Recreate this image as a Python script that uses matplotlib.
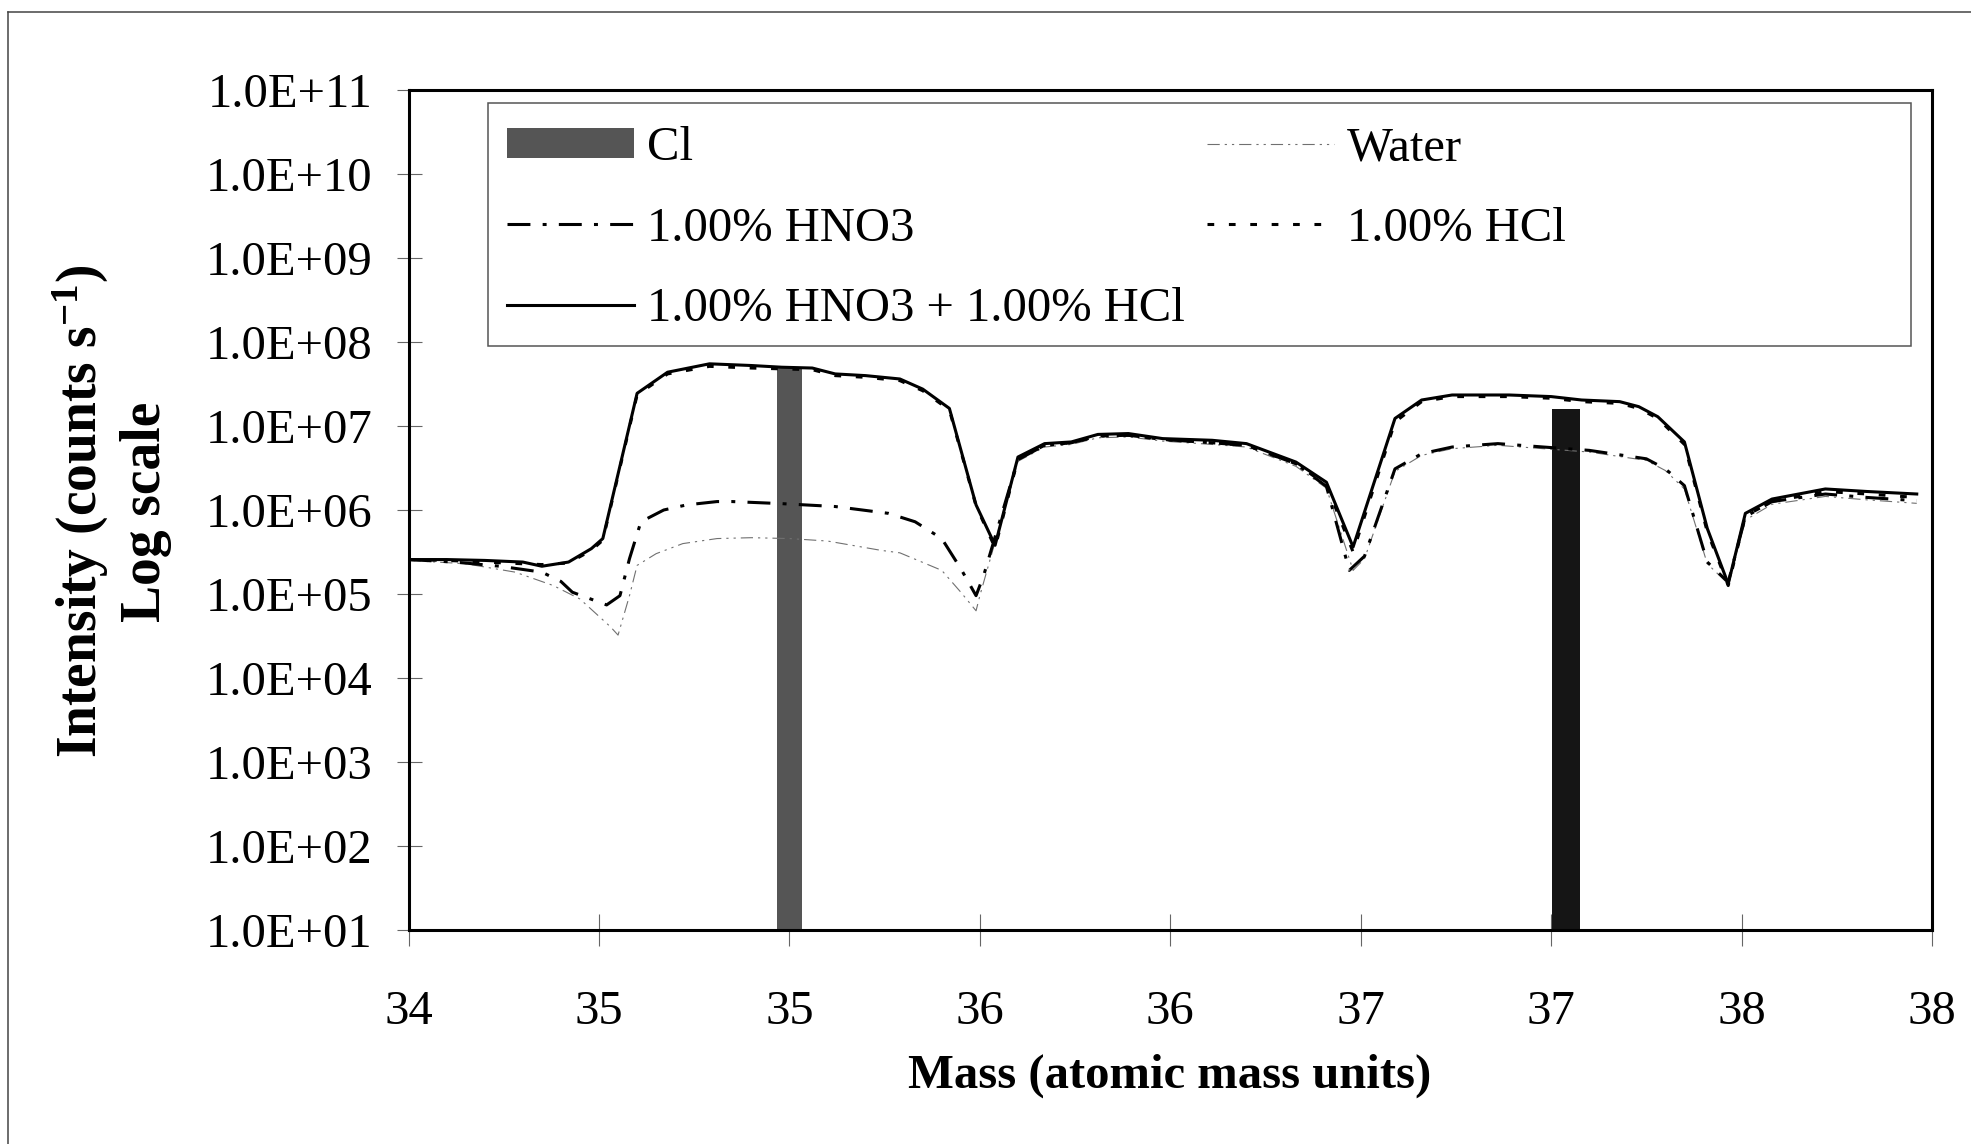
import matplotlib
matplotlib.use('Agg')
import numpy as np
import matplotlib.pyplot as plt
from matplotlib.lines import Line2D
from matplotlib.patches import Rectangle
from matplotlib.ticker import NullLocator

plt.rcParams['font.family'] = ['Liberation Serif', 'DejaVu Serif']
plt.rcParams['mathtext.fontset'] = 'custom'
plt.rcParams['mathtext.rm'] = 'Liberation Serif:bold'
plt.rcParams['mathtext.default'] = 'rm'

# ---------------- data ----------------
cl_mass = [35.00, 37.04]
cl_intensity = [4.9e7, 1.6e7]

band_mass = [34.00, 34.10, 34.20, 34.30, 34.35, 34.42, 34.48, 34.51, 34.60, 34.68,
             34.79, 34.90, 34.98, 35.06, 35.12, 35.20, 35.29, 35.35, 35.42, 35.49,
             35.54, 35.60, 35.67, 35.74, 35.81, 35.89, 35.98, 36.11, 36.20, 36.33,
             36.41, 36.48, 36.59, 36.66, 36.74, 36.89, 37.00, 37.08, 37.18, 37.23,
             37.28, 37.35, 37.41, 37.465, 37.51, 37.58, 37.72, 37.83, 37.96]

mix_intensity = [2.57e5, 2.57e5, 2.51e5, 2.40e5, 2.14e5, 2.40e5, 3.47e5, 4.57e5, 2.45e7, 4.37e7,
                 5.50e7, 5.25e7, 5.01e7, 4.90e7, 4.17e7, 3.98e7, 3.63e7, 2.75e7, 1.62e7, 1.15e6,
                 3.80e5, 4.27e6, 6.17e6, 6.46e6, 7.94e6, 8.13e6, 7.08e6, 6.76e6, 6.17e6, 3.72e6,
                 2.14e6, 3.63e5, 1.23e7, 2.04e7, 2.34e7, 2.34e7, 2.24e7, 2.04e7, 1.95e7, 1.70e7,
                 1.29e7, 6.46e6, 6.03e5, 1.32e5, 9.12e5, 1.35e6, 1.78e6, 1.66e6, 1.55e6]

hcl_intensity = [2.57e5, 2.51e5, 2.40e5, 2.29e5, 2.24e5, 2.34e5, 3.31e5, 4.37e5, 2.34e7, 4.17e7,
                 5.13e7, 4.90e7, 4.79e7, 4.68e7, 3.98e7, 3.80e7, 3.47e7, 2.63e7, 1.55e7, 1.12e6,
                 3.55e5, 4.07e6, 5.89e6, 6.31e6, 7.59e6, 7.76e6, 6.92e6, 6.31e6, 5.89e6, 3.55e6,
                 2.00e6, 3.16e5, 1.12e7, 1.95e7, 2.24e7, 2.24e7, 2.14e7, 1.95e7, 1.86e7, 1.62e7,
                 1.23e7, 6.03e6, 5.50e5, 1.26e5, 8.51e5, 1.26e6, 1.66e6, 1.55e6, 1.41e6]

hno3_mass = [34.00, 34.12, 34.24, 34.35, 34.40, 34.43, 34.52, 34.555, 34.58, 34.61,
             34.67, 34.73, 34.81, 34.85, 34.98, 35.12, 35.26, 35.33, 35.40, 35.45,
             35.49, 35.51, 35.60, 35.67, 35.74, 35.81, 35.89, 35.98, 36.11, 36.20,
             36.33, 36.41, 36.47, 36.51, 36.59, 36.66, 36.74, 36.86, 36.98, 37.10,
             37.25, 37.30, 37.35, 37.41, 37.465, 37.51, 37.58, 37.72, 37.83, 37.96]

hno3_intensity = [2.57e5, 2.40e5, 2.14e5, 1.82e5, 1.41e5, 1.05e5, 7.41e4, 9.55e4, 2.63e5, 7.24e5,
                  1.00e6, 1.15e6, 1.26e6, 1.26e6, 1.19e6, 1.10e6, 9.12e5, 7.24e5, 4.57e5, 2.00e5,
                  9.55e4, 1.66e5, 3.98e6, 5.89e6, 6.31e6, 7.59e6, 7.76e6, 6.92e6, 6.31e6, 5.89e6,
                  3.55e6, 1.91e6, 1.91e5, 2.82e5, 3.09e6, 4.68e6, 5.62e6, 6.17e6, 5.62e6, 5.13e6,
                  4.07e6, 3.09e6, 1.95e6, 2.40e5, 1.38e5, 8.32e5, 1.26e6, 1.55e6, 1.41e6, 1.29e6]

water_mass = [34.00, 34.15, 34.28, 34.38, 34.45, 34.53, 34.55, 34.58, 34.60, 34.65,
              34.72, 34.81, 34.90, 35.00, 35.10, 35.24, 35.29, 35.40, 35.45, 35.49,
              35.50, 35.60, 35.67, 35.74, 35.81, 35.89, 35.98, 36.11, 36.20, 36.33,
              36.41, 36.48, 36.51, 36.59, 36.66, 36.74, 36.86, 36.98, 37.10, 37.25,
              37.30, 37.35, 37.41, 37.465, 37.51, 37.58, 37.72, 37.83, 37.96]

water_intensity = [2.51e5, 2.29e5, 1.82e5, 1.26e5, 8.71e4, 4.07e4, 3.24e4, 9.55e4, 2.19e5, 3.02e5,
                   3.98e5, 4.57e5, 4.68e5, 4.57e5, 4.27e5, 3.31e5, 3.09e5, 1.91e5, 1.05e5, 6.31e4,
                   9.55e4, 3.80e6, 5.62e6, 6.03e6, 7.24e6, 7.41e6, 6.61e6, 6.03e6, 5.62e6, 3.31e6,
                   1.82e6, 1.91e5, 2.63e5, 2.88e6, 4.47e6, 5.37e6, 5.89e6, 5.37e6, 4.90e6, 3.89e6,
                   2.95e6, 1.78e6, 2.29e5, 1.32e5, 7.59e5, 1.17e6, 1.45e6, 1.32e6, 1.20e6]

x_ticks = [34.0, 34.5, 35.0, 35.5, 36.0, 36.5, 37.0, 37.5, 38.0]
x_tick_labels = ['34', '35', '35', '36', '36', '37', '37', '38', '38']
y_ticks = [1e1, 1e2, 1e3, 1e4, 1e5, 1e6, 1e7, 1e8, 1e9, 1e10, 1e11]
y_tick_labels = ['1.0E+01', '1.0E+02', '1.0E+03', '1.0E+04', '1.0E+05', '1.0E+06',
                 '1.0E+07', '1.0E+08', '1.0E+09', '1.0E+10', '1.0E+11']

# ---------------- figure ----------------
fig = plt.figure(figsize=(19.71, 11.44), dpi=100)
fig.patch.set_facecolor('white')
ax = fig.add_axes([0.2073, 0.1871, 0.7729, 0.7342])
ax.set_yscale('log')
ax.set_xlim(34, 38)
ax.set_ylim(1e1, 1e11)

base = 1e1
bars = ax.bar(cl_mass, np.array(cl_intensity) - base, bottom=base,
              width=[0.066, 0.074], color=['#555555', '#151515'],
              edgecolor='none', label='Cl', zorder=2)

l_water, = ax.plot(water_mass, water_intensity, color='#707070', lw=0.8,
                   dashes=(11, 4.5, 2, 4.5, 2, 4.5), label='Water', zorder=3)
l_hno3, = ax.plot(hno3_mass, hno3_intensity, color='black', lw=2.2,
                  dashes=(7.5, 4, 1.3, 4), label='1.00% HNO3', zorder=4)
l_hcl, = ax.plot(band_mass, hcl_intensity, color='black', lw=2.2,
                 dashes=(2.2, 4.8), label='1.00% HCl', zorder=4)
l_mix, = ax.plot(band_mass, mix_intensity, color='black', lw=2.2,
                 label='1.00% HNO3 + 1.00% HCl', zorder=5)

ax.set_xticks(x_ticks)
ax.set_xticklabels(x_tick_labels)
ax.set_yticks(y_ticks)
ax.set_yticklabels(y_tick_labels)
ax.yaxis.set_minor_locator(NullLocator())
ax.xaxis.set_minor_locator(NullLocator())
ax.tick_params(axis='y', direction='inout', length=18, width=0.8, color='#666666',
               pad=17, labelsize=35)
ax.tick_params(axis='x', direction='inout', length=23, width=0.8, color='#666666',
               pad=32, labelsize=35)
for sp in ax.spines.values():
    sp.set_linewidth(2.2)
    sp.set_color('black')

# legend
handles = [bars, l_hno3, l_mix, l_water, l_hcl]
labels = [h.get_label() for h in handles]
leg = ax.legend(handles, labels, ncol=2, loc='upper left',
                bbox_to_anchor=(0.0647, 0.957), frameon=False, borderpad=0,
                borderaxespad=0, handlelength=2.6, handleheight=0.6,
                handletextpad=0.27, columnspacing=0.47, labelspacing=0.75,
                fontsize=35)
leg.set_zorder(6)
ax.add_patch(Rectangle((0.0522, 0.6957), 0.934, 0.2893, transform=ax.transAxes,
                       fill=False, edgecolor='#555555', lw=1.1, zorder=6,
                       clip_on=False))

# axis titles
fig.text(1170 / 1971, 1 - 1088 / 1144, 'Mass (atomic mass units)', ha='center',
         va='baseline', fontsize=35, fontweight='bold')
fig.text(97 / 1971, 1 - 511 / 1144, 'Intensity (counts s$^{-1}$)', rotation=90,
         rotation_mode='anchor', ha='center', va='baseline', fontsize=40,
         fontweight='bold')
fig.text(160 / 1971, 1 - 512 / 1144, 'Log scale', rotation=90,
         rotation_mode='anchor', ha='center', va='baseline', fontsize=40,
         fontweight='bold')

# outer frame
fig.add_artist(Line2D([8 / 1971, 1.0], [1 - 12 / 1144, 1 - 12 / 1144],
                      transform=fig.transFigure, color='#444444', lw=1.1))
fig.add_artist(Line2D([8 / 1971, 8 / 1971], [0.0, 1 - 12 / 1144],
                      transform=fig.transFigure, color='#444444', lw=1.1))

fig.savefig('out.png', dpi=100, facecolor='white')
